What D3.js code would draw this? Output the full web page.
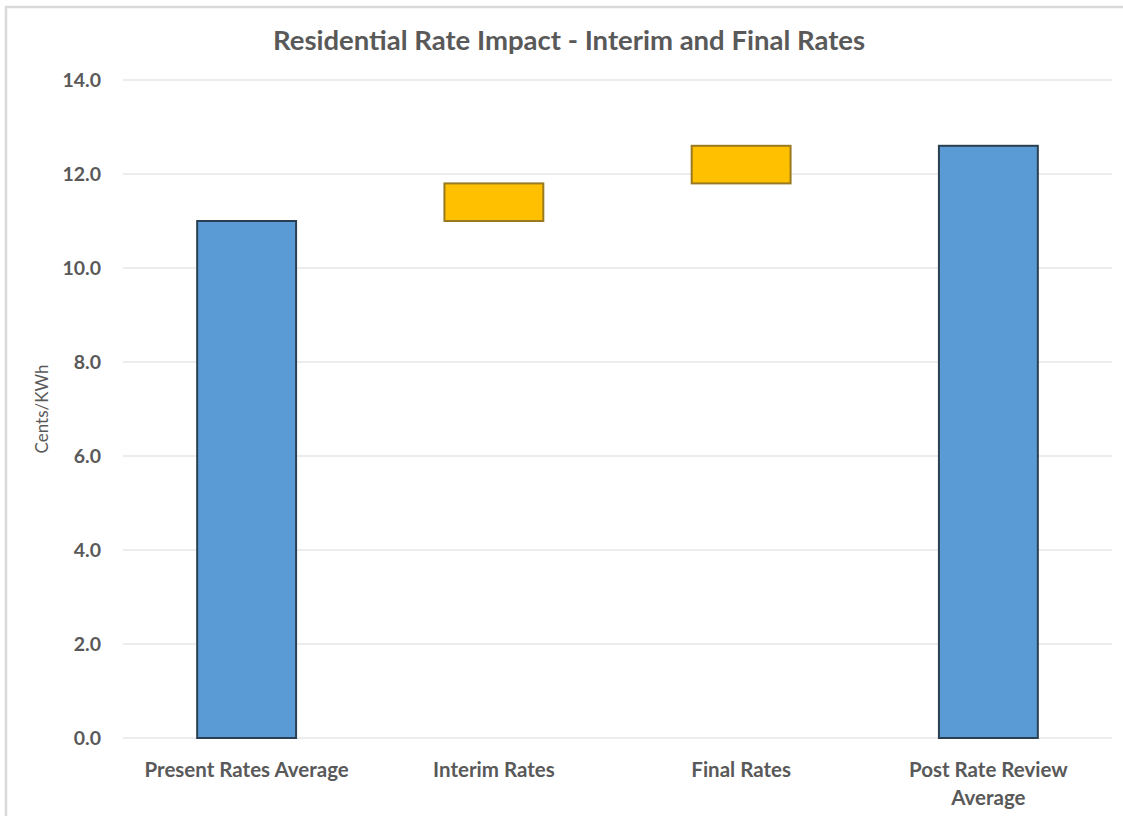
<!DOCTYPE html>
<html>
<head>
<meta charset="utf-8">
<script src="https://cdn.jsdelivr.net/npm/d3@7/dist/d3.min.js"></script>
<style>
  html, body { margin: 0; padding: 0; background: #fff; }
  svg { display: block; }
</style>
</head>
<body>
<svg id="chart" width="1123" height="816"></svg>
<script>
// Waterfall of residential rates (cents per kWh)
const categories = ["Present Rates Average", "Interim Rates", "Final Rates", "Post Rate Review Average"];
const barStart = [0, 11.0, 11.8, 0];
const barEnd = [11.0, 11.8, 12.6, 12.6];
const barKind = ["total", "step", "step", "total"];
const yTicks = [0, 2, 4, 6, 8, 10, 12, 14];

const svg = d3.select("#chart");
const W = 1123, H = 816;
const plot = { left: 123, right: 1112, top: 80, bottom: 738 };
const textColor = "#595959";
const font = "Lato, 'Open Sans', sans-serif";

// outer chart frame
svg.append("path")
  .attr("d", `M6,${H} L6,7 L${W},7`)
  .attr("fill", "none")
  .attr("stroke", "#d9d9d9")
  .attr("stroke-width", 2.5);

const x = d3.scaleBand()
  .domain(categories)
  .range([plot.left, plot.right])
  .paddingInner(0.6)
  .paddingOuter(0.3);

const y = d3.scaleLinear()
  .domain([0, 14])
  .range([plot.bottom, plot.top]);

// gridlines
svg.append("g")
  .selectAll("line")
  .data(yTicks)
  .join("line")
  .attr("x1", plot.left)
  .attr("x2", plot.right)
  .attr("y1", d => y(d))
  .attr("y2", d => y(d))
  .attr("stroke", "#ececec")
  .attr("stroke-width", 2);

// y axis tick labels
const yAxis = d3.axisLeft(y).tickValues(yTicks).tickFormat(d3.format(".1f")).tickSize(0).tickPadding(0);
const gy = svg.append("g").attr("transform", `translate(${plot.left - 22},0)`).call(yAxis);
gy.select(".domain").remove();
gy.selectAll("text")
  .attr("fill", textColor)
  .attr("font-family", font)
  .attr("font-weight", "bold")
  .attr("font-size", 19.5)
  .attr("dy", "0.35em");

// x axis category labels
const xAxis = d3.axisBottom(x).tickSize(0).tickPadding(0).tickFormat(() => "");
const gx = svg.append("g").attr("transform", `translate(0,${plot.bottom})`).call(xAxis);
gx.select(".domain").remove();
const labelLines = {
  "Present Rates Average": ["Present Rates Average"],
  "Interim Rates": ["Interim Rates"],
  "Final Rates": ["Final Rates"],
  "Post Rate Review Average": ["Post Rate Review", "Average"]
};
gx.selectAll(".tick").each(function(d) {
  const t = d3.select(this).select("text")
    .attr("y", 0)
    .attr("dy", null)
    .attr("fill", textColor)
    .attr("font-family", font)
    .attr("font-weight", "bold")
    .attr("font-size", 20.5)
    .attr("text-anchor", "middle");
  labelLines[d].forEach((line, i) => {
    t.append("tspan").attr("x", 0).attr("y", 39 + i * 28).text(line);
  });
});

// bars
svg.append("g")
  .selectAll("rect")
  .data(categories)
  .join("rect")
  .attr("x", d => x(d))
  .attr("width", x.bandwidth())
  .attr("y", (d, i) => y(barEnd[i]))
  .attr("height", (d, i) => y(barStart[i]) - y(barEnd[i]))
  .attr("fill", (d, i) => barKind[i] === "total" ? "#5b9bd5" : "#ffc000")
  .attr("stroke", (d, i) => barKind[i] === "total" ? "#2a3f52" : "#9a7a20")
  .attr("stroke-width", 2);

// y axis title
svg.append("text")
  .attr("transform", `translate(48,${(plot.top + plot.bottom) / 2}) rotate(-90)`)
  .attr("text-anchor", "middle")
  .attr("fill", textColor)
  .attr("font-family", font)
  .attr("font-size", 17)
  .text("Cents/KWh");

// chart title
svg.append("text")
  .attr("x", 569)
  .attr("y", 50)
  .attr("text-anchor", "middle")
  .attr("fill", textColor)
  .attr("font-family", font)
  .attr("font-weight", "bold")
  .attr("font-size", 27.5)
  .text("Residential Rate Impact - Interim and Final Rates");
</script>
</body>
</html>
